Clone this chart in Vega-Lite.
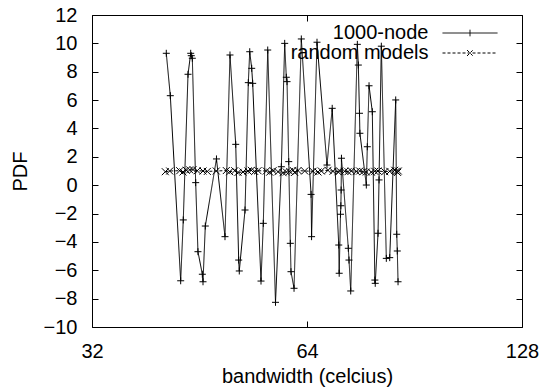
{
  "$schema": "https://vega.github.io/schema/vega-lite/v6.json",
  "width": 430,
  "height": 312,
  "autosize": {"type": "none"},
  "padding": {"left": 92, "top": 15, "right": 22, "bottom": 62},
  "background": "white",
  "config": {
    "font": "Liberation Sans",
    "view": {"stroke": "black", "strokeWidth": 1},
    "axis": {
      "grid": false,
      "domain": false,
      "labelFontSize": 20,
      "labelColor": "black",
      "labelFont": "Liberation Sans",
      "tickColor": "black",
      "tickSize": -6,
      "tickWidth": 1,
      "labelOverlap": false,
      "labelFlush": false,
      "titleFontSize": 20,
      "titleFontWeight": "normal",
      "titleColor": "black",
      "titleFont": "Liberation Sans"
    }
  },
  "data": {
    "values": [
      {"series": "1000-node", "x": 40.66, "y": 9.30},
      {"series": "1000-node", "x": 41.19, "y": 6.31},
      {"series": "1000-node", "x": 42.59, "y": -6.74},
      {"series": "1000-node", "x": 42.95, "y": -2.45},
      {"series": "1000-node", "x": 43.61, "y": 7.82},
      {"series": "1000-node", "x": 43.99, "y": 9.30},
      {"series": "1000-node", "x": 44.07, "y": 9.13},
      {"series": "1000-node", "x": 44.22, "y": 8.95},
      {"series": "1000-node", "x": 44.70, "y": 0.18},
      {"series": "1000-node", "x": 45.03, "y": -4.69},
      {"series": "1000-node", "x": 45.67, "y": -6.28},
      {"series": "1000-node", "x": 45.77, "y": -6.81},
      {"series": "1000-node", "x": 46.11, "y": -2.88},
      {"series": "1000-node", "x": 47.80, "y": 1.85},
      {"series": "1000-node", "x": 49.13, "y": -3.63},
      {"series": "1000-node", "x": 49.93, "y": 9.18},
      {"series": "1000-node", "x": 50.86, "y": 2.88},
      {"series": "1000-node", "x": 51.35, "y": -5.28},
      {"series": "1000-node", "x": 51.45, "y": -6.05},
      {"series": "1000-node", "x": 52.41, "y": -1.75},
      {"series": "1000-node", "x": 52.97, "y": 7.23},
      {"series": "1000-node", "x": 53.21, "y": 9.41},
      {"series": "1000-node", "x": 53.55, "y": 8.24},
      {"series": "1000-node", "x": 53.72, "y": 7.18},
      {"series": "1000-node", "x": 55.18, "y": -6.76},
      {"series": "1000-node", "x": 55.59, "y": -2.69},
      {"series": "1000-node", "x": 56.39, "y": 9.53},
      {"series": "1000-node", "x": 57.82, "y": -8.26},
      {"series": "1000-node", "x": 58.92, "y": 1.30},
      {"series": "1000-node", "x": 59.56, "y": 10.0},
      {"series": "1000-node", "x": 59.87, "y": 7.61},
      {"series": "1000-node", "x": 60.01, "y": 7.30},
      {"series": "1000-node", "x": 60.34, "y": 1.66},
      {"series": "1000-node", "x": 60.65, "y": -4.10},
      {"series": "1000-node", "x": 60.78, "y": -6.10},
      {"series": "1000-node", "x": 61.38, "y": -7.27},
      {"series": "1000-node", "x": 62.84, "y": 10.31},
      {"series": "1000-node", "x": 64.85, "y": -0.65},
      {"series": "1000-node", "x": 64.95, "y": -3.63},
      {"series": "1000-node", "x": 66.10, "y": 10.08},
      {"series": "1000-node", "x": 68.26, "y": 1.42},
      {"series": "1000-node", "x": 69.42, "y": 5.42},
      {"series": "1000-node", "x": 70.90, "y": -4.22},
      {"series": "1000-node", "x": 71.00, "y": -6.21},
      {"series": "1000-node", "x": 71.30, "y": -2.05},
      {"series": "1000-node", "x": 71.38, "y": -1.45},
      {"series": "1000-node", "x": 71.45, "y": -0.34},
      {"series": "1000-node", "x": 71.52, "y": 1.90},
      {"series": "1000-node", "x": 73.12, "y": -4.45},
      {"series": "1000-node", "x": 73.28, "y": -5.28},
      {"series": "1000-node", "x": 73.69, "y": -7.46},
      {"series": "1000-node", "x": 75.28, "y": 9.93},
      {"series": "1000-node", "x": 75.52, "y": 8.47},
      {"series": "1000-node", "x": 75.80, "y": 5.07},
      {"series": "1000-node", "x": 75.90, "y": 3.66},
      {"series": "1000-node", "x": 77.49, "y": 0.01},
      {"series": "1000-node", "x": 77.74, "y": 2.71},
      {"series": "1000-node", "x": 78.17, "y": 7.01},
      {"series": "1000-node", "x": 79.00, "y": 5.18},
      {"series": "1000-node", "x": 79.65, "y": -6.69},
      {"series": "1000-node", "x": 79.75, "y": -6.92},
      {"series": "1000-node", "x": 80.47, "y": -3.39},
      {"series": "1000-node", "x": 80.73, "y": 0.37},
      {"series": "1000-node", "x": 81.33, "y": 9.8},
      {"series": "1000-node", "x": 82.65, "y": -5.16},
      {"series": "1000-node", "x": 83.56, "y": -5.11},
      {"series": "1000-node", "x": 85.19, "y": 6.01},
      {"series": "1000-node", "x": 85.47, "y": -3.46},
      {"series": "1000-node", "x": 85.63, "y": -4.64},
      {"series": "1000-node", "x": 85.83, "y": -6.81},
      {"series": "random models", "x": 40.53, "y": 0.95},
      {"series": "random models", "x": 41.11, "y": 1.0},
      {"series": "random models", "x": 42.46, "y": 1.02},
      {"series": "random models", "x": 42.91, "y": 0.93},
      {"series": "random models", "x": 43.37, "y": 1.05},
      {"series": "random models", "x": 43.85, "y": 1.08},
      {"series": "random models", "x": 44.32, "y": 1.1},
      {"series": "random models", "x": 44.93, "y": 1.02},
      {"series": "random models", "x": 45.77, "y": 1.0},
      {"series": "random models", "x": 46.41, "y": 0.97},
      {"series": "random models", "x": 47.77, "y": 1.0},
      {"series": "random models", "x": 49.34, "y": 1.03},
      {"series": "random models", "x": 49.88, "y": 0.95},
      {"series": "random models", "x": 50.70, "y": 1.02},
      {"series": "random models", "x": 51.24, "y": 0.9},
      {"series": "random models", "x": 52.07, "y": 0.93},
      {"series": "random models", "x": 52.92, "y": 1.0},
      {"series": "random models", "x": 53.48, "y": 1.05},
      {"series": "random models", "x": 54.07, "y": 0.97},
      {"series": "random models", "x": 54.65, "y": 1.02},
      {"series": "random models", "x": 56.13, "y": 1.0},
      {"series": "random models", "x": 56.75, "y": 0.92},
      {"series": "random models", "x": 57.36, "y": 1.02},
      {"series": "random models", "x": 58.29, "y": 0.95},
      {"series": "random models", "x": 59.24, "y": 0.88},
      {"series": "random models", "x": 59.87, "y": 0.93},
      {"series": "random models", "x": 60.53, "y": 0.97},
      {"series": "random models", "x": 61.18, "y": 1.05},
      {"series": "random models", "x": 61.51, "y": 0.9},
      {"series": "random models", "x": 62.17, "y": 1.03},
      {"series": "random models", "x": 63.53, "y": 1.0},
      {"series": "random models", "x": 65.25, "y": 0.98},
      {"series": "random models", "x": 66.31, "y": 0.93},
      {"series": "random models", "x": 67.02, "y": 1.0},
      {"series": "random models", "x": 68.48, "y": 1.05},
      {"series": "random models", "x": 69.59, "y": 0.98},
      {"series": "random models", "x": 70.73, "y": 0.95},
      {"series": "random models", "x": 71.12, "y": 1.0},
      {"series": "random models", "x": 72.27, "y": 0.98},
      {"series": "random models", "x": 73.05, "y": 0.95},
      {"series": "random models", "x": 73.83, "y": 1.0},
      {"series": "random models", "x": 75.03, "y": 0.97},
      {"series": "random models", "x": 75.86, "y": 1.0},
      {"series": "random models", "x": 76.67, "y": 0.95},
      {"series": "random models", "x": 77.49, "y": 0.93},
      {"series": "random models", "x": 78.75, "y": 0.92},
      {"series": "random models", "x": 79.62, "y": 0.98},
      {"series": "random models", "x": 80.47, "y": 1.0},
      {"series": "random models", "x": 82.23, "y": 0.95},
      {"series": "random models", "x": 83.56, "y": 0.98},
      {"series": "random models", "x": 84.92, "y": 1.05},
      {"series": "random models", "x": 85.36, "y": 0.98},
      {"series": "random models", "x": 85.70, "y": 0.9},
      {"series": "random models", "x": 85.90, "y": 1.0}
    ]
  },
  "layer": [
    {
      "mark": {"type": "line", "color": "black", "strokeWidth": 1},
      "encoding": {
        "x": {
          "field": "x", "type": "quantitative",
          "scale": {"type": "log", "base": 2, "domain": [32, 128], "nice": false},
          "axis": {"orient": "bottom", "values": [32, 64, 128], "format": "d", "labelPadding": 20, "title": "bandwidth (celcius)", "titlePadding": 5}
        },
        "y": {
          "field": "y", "type": "quantitative",
          "scale": {"domain": [-10, 12], "nice": false, "zero": false},
          "axis": {"orient": "left", "values": [-10, -8, -6, -4, -2, 0, 2, 4, 6, 8, 10, 12], "labelPadding": 21, "title": "PDF", "titlePadding": 13}
        },
        "strokeDash": {
          "field": "series", "type": "nominal",
          "scale": {"domain": ["1000-node", "random models"], "range": [[1, 0], [3, 2]]},
          "legend": {
            "orient": "none", "legendX": 368, "legendY": 8, "title": null,
            "labelFontSize": 20, "labelColor": "black", "labelFont": "Liberation Sans",
            "labelAlign": "right", "labelOffset": -51.5,
            "symbolSize": 100, "rowPadding": 0, "padding": 0,
            "symbolStrokeColor": "black", "symbolStrokeWidth": 1, "symbolFillColor": "transparent",
            "encode": {
              "symbols": {
                "update": {
                  "shape": [
                    {"test": "datum.value === '1000-node'", "value": "M-5.5,0H5.5M0,-0.66V0.66"},
                    {"value": "M-5.5,0H5.5M-0.6,-0.6L0.6,0.6M-0.6,0.6L0.6,-0.6"}
                  ]
                }
              }
            }
          }
        }
      }
    },
    {
      "mark": {"type": "point", "filled": false, "color": "black", "size": 49, "strokeWidth": 1, "opacity": 1},
      "encoding": {
        "x": {
          "field": "x", "type": "quantitative",
          "axis": {"orient": "top", "values": [32, 64, 128], "labels": false, "title": null}
        },
        "y": {
          "field": "y", "type": "quantitative",
          "axis": {"orient": "right", "values": [-10, -8, -6, -4, -2, 0, 2, 4, 6, 8, 10, 12], "labels": false, "title": null}
        },
        "shape": {
          "field": "series", "type": "nominal",
          "scale": {"domain": ["random models", "1000-node"], "range": ["M-1,-1L1,1M-1,1L1,-1", "M-1,0H1M0,-1V1"]},
          "legend": null
        }
      }
    }
  ],
  "resolve": {"axis": {"x": "independent", "y": "independent"}}
}
